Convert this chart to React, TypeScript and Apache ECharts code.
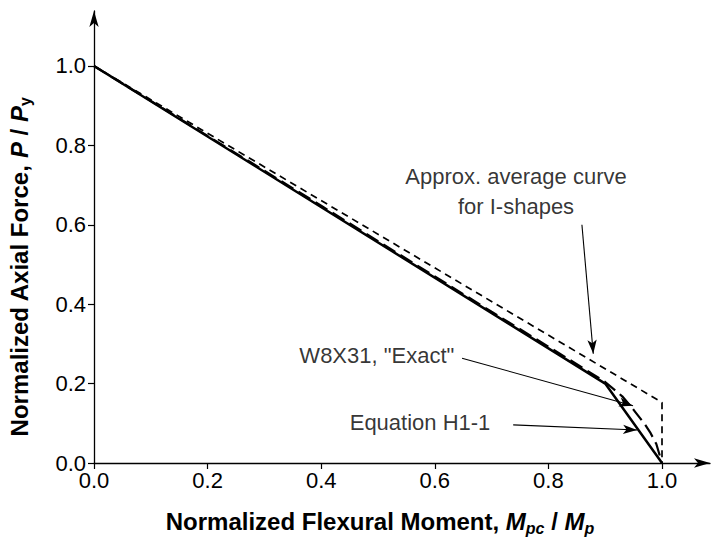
import React, { useEffect, useRef } from "react";
import * as echarts from "echarts";

// ---- data ----
const tickValues = [0, 0.2, 0.4, 0.6, 0.8, 1.0];

// Equation H1-1 (solid)
const eqH11 = [
  [0, 1.0],
  [0.9, 0.2],
  [1.0, 0.0],
];

// W8X31 "Exact" (long dash)
const w8x31Exact = [
  [0, 1.0],
  [0.1, 0.912],
  [0.2, 0.824],
  [0.3, 0.736],
  [0.4, 0.648],
  [0.5, 0.559],
  [0.6, 0.47],
  [0.7, 0.381],
  [0.8, 0.293],
  [0.85, 0.249],
  [0.9, 0.204],
  [0.93, 0.168],
  [0.95, 0.134],
  [0.97, 0.097],
  [0.98, 0.075],
  [0.99, 0.048],
  [1.0, 0.0],
];

// Approx. average curve for I-shapes (short dash)
const approxAverage = [
  [0, 1.0],
  [1.0, 0.1525],
  [1.0, 0.0],
];

// annotations (data coordinates)
const annotationTexts = [
  { name: "Approx. average curve\nfor I-shapes", value: [0.743, 0.685] },
  { name: 'W8X31, "Exact"', value: [0.498, 0.272] },
  { name: "Equation H1-1", value: [0.574, 0.103] },
];
const annotationArrows = [
  { from: [0.859, 0.6], to: [0.879, 0.275] },
  { from: [0.648, 0.264], to: [0.949, 0.144] },
  { from: [0.738, 0.096], to: [0.956, 0.083] },
];

const FONT = "'Liberation Sans', Arial, sans-serif";

export default function App() {
  const ref = useRef<HTMLDivElement>(null);

  useEffect(() => {
    document.body.style.margin = "0";
    if (!ref.current) return;
    const chart = echarts.init(ref.current, null, { renderer: "svg" });

    const axisCommon = {
      type: "value" as const,
      min: 0,
      axisLine: {
        show: true,
        onZero: false,
        symbol: ["none", "arrow"],
        symbolSize: [7, 16],
        lineStyle: { color: "#000", width: 1.3 },
      },
      axisTick: {
        show: true,
        inside: false,
        length: 6,
        customValues: tickValues,
        lineStyle: { color: "#000", width: 1.2 },
      },
      axisLabel: {
        show: true,
        customValues: tickValues,
        formatter: (v: number) => v.toFixed(1),
        color: "#000",
        fontFamily: FONT,
        fontSize: 22,
      },
      splitLine: { show: false },
    };

    chart.setOption({
      animation: false,
      backgroundColor: "#fff",
      grid: { left: 94, right: 10, top: 11, bottom: 80, containLabel: false },
      xAxis: {
        ...axisCommon,
        max: 1.0845,
        axisLabel: { ...axisCommon.axisLabel, margin: 6 },
      },
      yAxis: {
        ...axisCommon,
        max: 1.1385,
        axisLabel: { ...axisCommon.axisLabel, margin: 8 },
      },
      series: [
        {
          name: "Equation H1-1",
          type: "line",
          data: eqH11,
          symbol: "none",
          lineStyle: { color: "#000", width: 2.5, type: "solid" },
          z: 3,
          markLine: {
            silent: true,
            symbol: ["none", "arrow"],
            symbolSize: [7, 14],
            lineStyle: { color: "#000", width: 1.1, type: "solid" },
            label: { show: false },
            data: annotationArrows.map((a) => [
              { coord: a.from },
              { coord: a.to },
            ]),
          },
        },
        {
          name: 'W8X31, "Exact"',
          type: "line",
          data: w8x31Exact,
          symbol: "none",
          smooth: false,
          lineStyle: { color: "#000", width: 2.2, type: [14, 6] },
          z: 2,
        },
        {
          name: "Approx. average curve for I-shapes",
          type: "line",
          data: approxAverage,
          symbol: "none",
          lineStyle: { color: "#000", width: 1.7, type: [7, 5] },
          z: 2,
        },
        {
          name: "annotations",
          type: "scatter",
          data: annotationTexts,
          symbolSize: 1,
          itemStyle: { color: "rgba(0,0,0,0)" },
          silent: true,
          labelLayout: { hideOverlap: false },
          label: {
            show: true,
            position: "inside",
            formatter: (p: any) => p.name,
            color: "#000",
            fontFamily: FONT,
            fontSize: 22,
            lineHeight: 30,
            align: "center",
            verticalAlign: "middle",
          },
        },
      ],
      graphic: [
        {
          type: "text",
          x: 380,
          y: 521,
          style: {
            text: "{b|Normalized Flexural Moment, }{i|M}{isub|pc}{b| / }{i|M}{isub|p}",
            align: "center",
            verticalAlign: "middle",
            rich: {
              b: { fontFamily: FONT, fontWeight: "bold", fontSize: 24, fill: "#000", lineHeight: 30 },
              i: { fontFamily: FONT, fontWeight: "bold", fontStyle: "italic", fontSize: 24, fill: "#000", lineHeight: 30 },
              isub: { fontFamily: FONT, fontWeight: "bold", fontStyle: "italic", fontSize: 16, fill: "#000", lineHeight: 30, padding: [14, 0, 0, 0] },
            },
          },
        },
        {
          type: "text",
          x: 19,
          y: 267,
          rotation: Math.PI / 2,
          style: {
            text: "{b|Normalized Axial Force, }{i|P}{b| / }{i|P}{sub|y}",
            align: "center",
            verticalAlign: "middle",
            rich: {
              b: { fontFamily: FONT, fontWeight: "bold", fontSize: 24, fill: "#000", lineHeight: 28 },
              i: { fontFamily: FONT, fontWeight: "bold", fontStyle: "italic", fontSize: 24, fill: "#000", lineHeight: 28 },
              sub: { fontFamily: FONT, fontWeight: "bold", fontSize: 16, fill: "#000", lineHeight: 28, padding: [13, 0, 0, 0] },
            },
          },
        },
      ],
    });

    return () => chart.dispose();
  }, []);

  return <div ref={ref} style={{ width: 720, height: 543 }} />;
}
